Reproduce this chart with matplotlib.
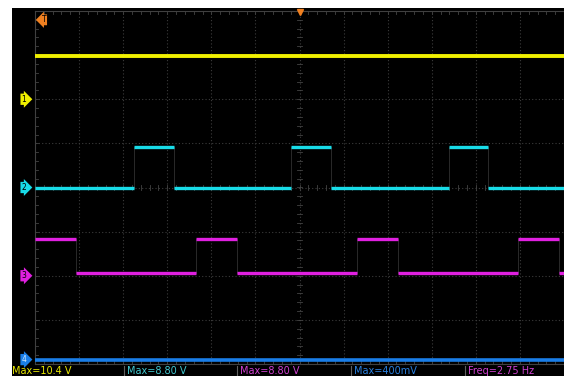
import matplotlib
matplotlib.use('Agg')
import matplotlib.pyplot as plt
from matplotlib.patches import Rectangle
import numpy as np

W, H = 564, 376

# time base: 100 ms/div, 12 divisions; vertical 10 V/div, 8 divisions
t_span_ms = [-600, 600]
volts_per_div = 10.0

# channel offsets in divisions (marker positions)
ch_offset_div = {'1': 2.0, '2': 0.0, '3': -2.0, '4': -3.9}
ch_color = {'1': '#f0f000', '2': '#18dce8', '3': '#e020e0', '4': '#1a7ee8'}

# ch1: flat DC level
ch1_level_v = 9.8
# ch2: square wave, edge times (ms) and levels (V) held after each edge
ch2_edges_ms = [-600, -375, -285, -20, 71, 338, 427]
ch2_levels_v = [0.0, 9.1, 0.0, 9.1, 0.0, 9.1, 0.0]
# ch3: square wave
ch3_edges_ms = [-600, -507, -235, -142, 130, 223, 495, 588]
ch3_levels_v = [8.3, 0.6, 8.3, 0.6, 8.3, 0.6, 8.3, 0.6]
# ch4: flat
ch4_level_v = 0.0

meas_labels = ['Max=10.4 V', 'Max=8.80 V', 'Max=8.80 V', 'Max=400mV', 'Freq=2.75 Hz']
meas_colors = ['#e8e800', '#40c8d0', '#d040d0', '#2a80e0', '#d040d0']
meas_x_px = [12, 127, 240, 354, 468]

fig = plt.figure(figsize=(W / 100, H / 100), dpi=100, facecolor='white')
# black screen area
fig.patches.append(Rectangle((12 / W, 0), 1 - 12 / W, 1 - 8 / H, transform=fig.transFigure,
                             facecolor='black', edgecolor='none', zorder=0))

ax = fig.add_axes([35 / W, 1 - 364 / H, (W - 35) / W, 353 / H])
ax.set_zorder(2)
ax.set_facecolor('black')
ax.set_xlim(t_span_ms)
ax.set_ylim(-4, 4)
ax.set_xticks([])
ax.set_yticks([])
for s in ax.spines.values():
    s.set_color('#404040')
    s.set_linewidth(0.8)

# graticule
grid_c = '#3c3c3c'
for xv in np.arange(-500, 600, 100):
    ax.axvline(xv, color=grid_c, lw=0.8, ls=(0, (1, 2)), zorder=1)
for yv in np.arange(-3, 4, 1):
    ax.axhline(yv, color=grid_c, lw=0.8, ls=(0, (1, 2)), zorder=1)
# small ticks on centre lines and edges
tick_c = '#444444'
for xv in np.arange(-600, 601, 20):
    ax.plot([xv, xv], [-0.06, 0.06], color=tick_c, lw=0.6, zorder=1)
    ax.plot([xv, xv], [3.93, 4.0], color=tick_c, lw=0.6, zorder=1)
    ax.plot([xv, xv], [-4.0, -3.93], color=tick_c, lw=0.6, zorder=1)
for yv in np.arange(-4, 4.01, 0.2):
    ax.plot([-6, 6], [yv, yv], color=tick_c, lw=0.6, zorder=1)
    ax.plot([-600, -594], [yv, yv], color=tick_c, lw=0.6, zorder=1)


def draw_square(edges, levels, ch):
    off = ch_offset_div[ch]
    y = np.array(levels) / volts_per_div + off
    t = np.array(edges + [t_span_ms[1]])
    # faint transitions
    ax.plot(t, np.append(y, y[-1]), drawstyle='steps-post', color='#2a2a2a', lw=0.7, zorder=2)
    ax.hlines(y, t[:-1], t[1:], color=ch_color[ch], lw=2.4, zorder=3)


ax.hlines(ch1_level_v / volts_per_div + ch_offset_div['1'], *t_span_ms, color=ch_color['1'], lw=2.8, zorder=3)
draw_square(ch2_edges_ms, ch2_levels_v, '2')
draw_square(ch3_edges_ms, ch3_levels_v, '3')
ax.hlines(ch4_level_v / volts_per_div + ch_offset_div['4'], *t_span_ms, color=ch_color['4'], lw=2.6, zorder=3)

# channel markers on the left
for ch, off in ch_offset_div.items():
    ax.text(-625, off, ch, color='black' if ch != '4' else '#d0e8ff', fontsize=5.5,
            ha='center', va='center', clip_on=False, zorder=5,
            bbox=dict(boxstyle='rarrow,pad=0.15', fc=ch_color[ch], ec='none'))

# trigger markers
ax.text(-580, 3.8, 'T', color='black', fontsize=5.5, ha='center', va='center', zorder=5,
        bbox=dict(boxstyle='larrow,pad=0.12', fc='#f08020', ec='none'))
ax.plot([0], [3.97], marker='v', color='#f08020', ms=5, clip_on=False, zorder=5)

# measurement bar
for lab, c, xp in zip(meas_labels, meas_colors, meas_x_px):
    fig.text(xp / W, -0.5 / H, lab, color=c, fontsize=7, ha='left', va='bottom')
for xp in [124, 237, 351, 465]:
    fig.add_artist(plt.Line2D([xp / W, xp / W], [0, 10 / H], color='#606060', lw=0.8))

fig.savefig('out.png', dpi=100, facecolor='white')
